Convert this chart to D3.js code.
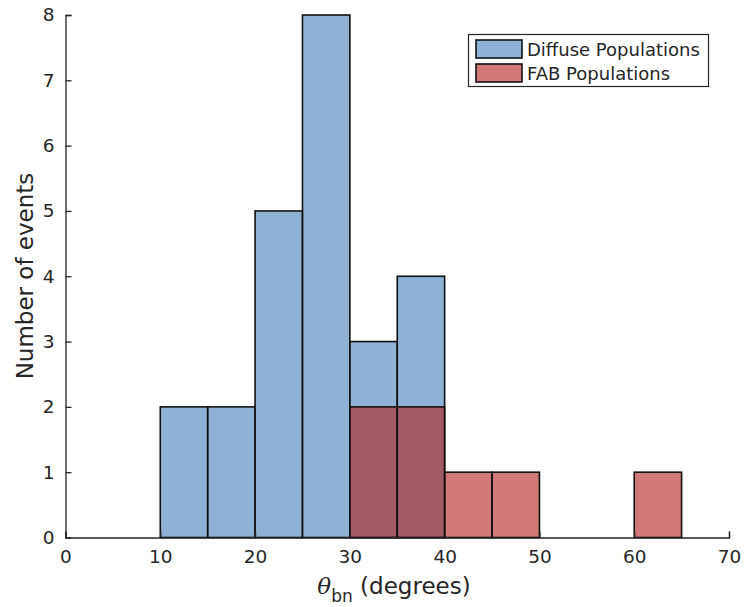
<!DOCTYPE html>
<html>
<head>
<meta charset="utf-8">
<script src="https://cdn.jsdelivr.net/npm/d3@7"></script>
<style>
  body { margin: 0; background: #fff; }
  text { font-family: "DejaVu Sans", sans-serif; fill: #262626; }
</style>
</head>
<body>
<svg id="chart" width="744" height="607"></svg>
<script>
// Histogram bin edges (degrees) and counts per bin
const binStarts = [10, 15, 20, 25, 30, 35, 40, 45, 50, 55, 60];
const binWidth = 5;
const diffuseCounts = [2, 2, 5, 8, 3, 4, 0, 0, 0, 0, 0];
const fabCounts = [0, 0, 0, 0, 2, 2, 1, 1, 0, 0, 1];
const xTicks = [0, 10, 20, 30, 40, 50, 60, 70];
const yTicks = [0, 1, 2, 3, 4, 5, 6, 7, 8];
const seriesNames = ["Diffuse Populations", "FAB Populations"];
const seriesColors = ["rgb(68,125,183)", "rgb(177,32,30)"];
const faceAlpha = 0.6;

const svg = d3.select("#chart");
const x = d3.scaleLinear().domain([0, 70]).range([65.5, 729]);
const y = d3.scaleLinear().domain([0, 8]).range([537.5, 15]);

function drawSeries(counts, color) {
  const data = binStarts.map((s, i) => ({ s, c: counts[i] })).filter(d => d.c > 0);
  svg.append("g").selectAll("rect").data(data).join("rect")
    .attr("x", d => x(d.s))
    .attr("y", d => y(d.c))
    .attr("width", d => x(d.s + binWidth) - x(d.s))
    .attr("height", d => y(0) - y(d.c))
    .attr("fill", color)
    .attr("fill-opacity", faceAlpha)
    .attr("stroke", "#111")
    .attr("stroke-width", 1.6);
}
drawSeries(diffuseCounts, seriesColors[0]);
drawSeries(fabCounts, seriesColors[1]);

// Axes with inward ticks
const xAxis = d3.axisBottom(x).tickValues(xTicks).tickSizeInner(-6).tickSizeOuter(-6).tickPadding(12);
const yAxis = d3.axisLeft(y).tickValues(yTicks).tickSizeInner(-6).tickSizeOuter(-6).tickPadding(11);

const gx = svg.append("g").attr("transform", `translate(0,${y(0)})`).call(xAxis);
const gy = svg.append("g").attr("transform", `translate(${x(0)},0)`).call(yAxis);
[gx, gy].forEach(g => {
  g.select(".domain").attr("stroke", "#262626").attr("stroke-width", 1.3);
  g.selectAll(".tick line").attr("stroke", "#262626").attr("stroke-width", 1.3);
  g.selectAll(".tick text").attr("font-size", 18.5).attr("font-family", "DejaVu Sans, sans-serif").attr("fill", "#262626");
});
gy.selectAll(".tick line").filter(d => d === 0).remove();

// Axis labels
const xl = svg.append("text").attr("x", 394).attr("y", 594).attr("text-anchor", "middle").attr("font-size", 23);
xl.append("tspan").attr("font-style", "italic").attr("font-family", "DejaVu Serif, serif").text("θ");
xl.append("tspan").attr("dy", 8).attr("font-size", 17).text("bn");
xl.append("tspan").attr("dy", -8).text(" (degrees)");

svg.append("text")
  .attr("transform", "translate(33,276) rotate(-90)")
  .attr("text-anchor", "middle").attr("font-size", 23)
  .text("Number of events");

// Legend
const lg = svg.append("g");
lg.append("rect").attr("x", 468.5).attr("y", 34.5).attr("width", 240).attr("height", 52)
  .attr("fill", "#fff").attr("stroke", "#262626").attr("stroke-width", 1.2);
seriesNames.forEach((name, i) => {
  const yy = 40 + i * 24;
  lg.append("rect").attr("x", 476).attr("y", yy).attr("width", 46).attr("height", 18)
    .attr("fill", seriesColors[i]).attr("fill-opacity", faceAlpha)
    .attr("stroke", "#111").attr("stroke-width", 1.6);
  lg.append("text").attr("x", 527).attr("y", yy + 16).attr("font-size", 18).text(name);
});
</script>
</body>
</html>
